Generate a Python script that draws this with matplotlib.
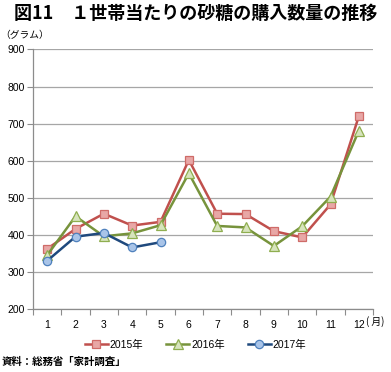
import matplotlib.pyplot as plt
from matplotlib.ticker import FixedLocator

plt.rcParams['font.family'] = ['Liberation Sans', 'Noto Sans CJK JP', 'DejaVu Sans']
JP = ['Noto Sans CJK JP', 'DejaVu Sans']

# === データ ===
months = [1, 2, 3, 4, 5, 6, 7, 8, 9, 10, 11, 12]
sugar_2015 = [362, 416, 457, 425, 435, 602, 457, 456, 410, 393, 482, 720]
sugar_2016 = [345, 450, 396, 404, 426, 566, 424, 420, 370, 423, 503, 681]
months_2017 = [1, 2, 3, 4, 5]
sugar_2017 = [330, 395, 405, 366, 380]
yticks = [200, 300, 400, 500, 600, 700, 800, 900]

fig = plt.figure(figsize=(3.91, 3.72), dpi=100)
ax = fig.add_axes([0.0844, 0.1694, 0.8696, 0.6976])

ax.plot(months, sugar_2015, color='#c0504d', linewidth=1.8, marker='s', markersize=6,
        markerfacecolor='#e8a7a6', markeredgecolor='#cf6b68', markeredgewidth=0.9,
        label='2015年', zorder=3)
ax.plot(months, sugar_2016, color='#77933c', linewidth=1.8, marker='^', markersize=7,
        markerfacecolor='#d7e4bd', markeredgecolor='#8fae4f', markeredgewidth=0.9,
        label='2016年', zorder=3)
ax.plot(months_2017, sugar_2017, color='#1f497d', linewidth=1.8, marker='o', markersize=6,
        markerfacecolor='#a9c4e8', markeredgecolor='#4f81bd', markeredgewidth=0.9,
        label='2017年', zorder=4)

ax.set_xlim(0.5, 12.5)
ax.set_ylim(200, 900)
ax.set_yticks(yticks)
ax.set_xticks(months)
ax.xaxis.set_minor_locator(FixedLocator([m + 0.5 for m in range(0, 13)]))
ax.tick_params(axis='x', which='major', length=0, pad=8, labelsize=7.5)
ax.tick_params(axis='x', which='minor', length=4, color='#8c8c8c', width=0.8)
ax.tick_params(axis='y', length=4, color='#8c8c8c', width=0.8, pad=2, labelsize=7.5)

ax.grid(axis='y', color='#a6a6a6', linewidth=0.9)
ax.set_axisbelow(True)
for s in ['top', 'right']:
    ax.spines[s].set_visible(False)
for s in ['left', 'bottom']:
    ax.spines[s].set_color('#8c8c8c')
    ax.spines[s].set_linewidth(0.9)

fig.text(0.036, 0.965, '図11　１世帯当たりの砂糖の購入数量の推移', fontsize=13,
         fontweight='bold', va='center', ha='left', family=JP)
fig.text(0.0, 0.905, '（グラム）', fontsize=7, va='center', ha='left', family=JP)
fig.text(0.937, 0.137, '( 月)', fontsize=7, va='center', ha='left', family=JP)
fig.text(0.005, 0.027, '資料：総務省「家計調査」', fontsize=7.5,
         fontweight='bold', va='center', ha='left', family=JP)

fig.legend(loc='center', bbox_to_anchor=(0.5, 0.073), ncol=3, frameon=False,
           fontsize=7.5, handlelength=2.2, handletextpad=0.2, columnspacing=2.2)

fig.savefig('out.png', dpi=100)
